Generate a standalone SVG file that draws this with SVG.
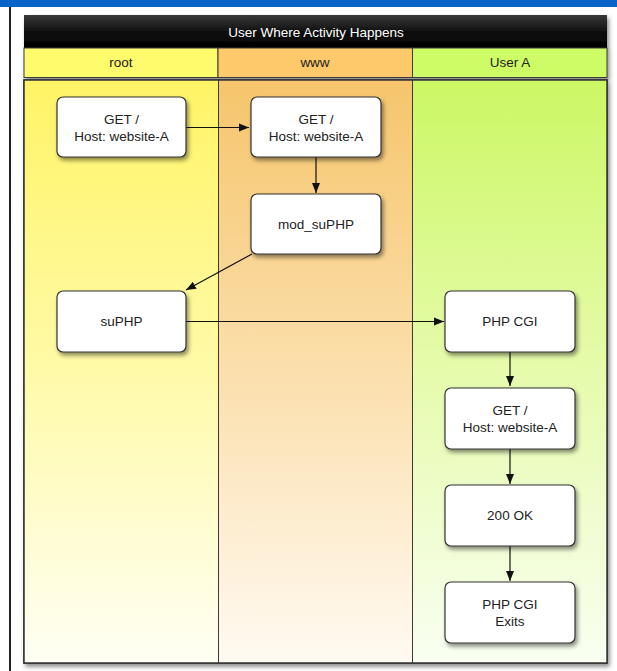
<svg xmlns="http://www.w3.org/2000/svg" width="617" height="671" viewBox="0 0 617 671">
  <style>
    text { font-family: "Liberation Sans", Arial, Helvetica, sans-serif; font-size: 13.5px; fill: #222; text-anchor: middle; }
    .title { fill: #fff; }
    .node rect { fill: #fff; stroke: #333; stroke-width: 1.2; filter: url(#shadow); }
    .lane { stroke: #3a3a3a; stroke-width: 1; }
    .edge { stroke: #111; stroke-width: 1.2; fill: none; marker-end: url(#arrow); }
  </style>
  <defs>
    <filter id="shadow" x="-20%" y="-20%" width="150%" height="160%">
      <feDropShadow dx="2" dy="3" stdDeviation="2" flood-color="#000" flood-opacity="0.45"/>
    </filter>
    <linearGradient id="titleGrad" x1="0" y1="0" x2="0" y2="1">
      <stop offset="0" stop-color="#3a3a3a"/>
      <stop offset="0.5" stop-color="#111"/>
      <stop offset="1" stop-color="#000"/>
    </linearGradient>
    <linearGradient id="rootGrad" x1="0" y1="0" x2="0" y2="1">
      <stop offset="0" stop-color="#fff466"/>
      <stop offset="0.5" stop-color="#fffaa8"/>
      <stop offset="1" stop-color="#fffff4"/>
    </linearGradient>
    <linearGradient id="wwwGrad" x1="0" y1="0" x2="0" y2="1">
      <stop offset="0" stop-color="#f6c56c"/>
      <stop offset="0.5" stop-color="#fbdfac"/>
      <stop offset="1" stop-color="#fffaf2"/>
    </linearGradient>
    <linearGradient id="userGrad" x1="0" y1="0" x2="0" y2="1">
      <stop offset="0" stop-color="#ccf764"/>
      <stop offset="0.5" stop-color="#e6fbac"/>
      <stop offset="1" stop-color="#f9fff2"/>
    </linearGradient>
    <marker id="arrow" viewBox="0 0 10 10" refX="10" refY="5" markerWidth="10" markerHeight="10" markerUnits="userSpaceOnUse" orient="auto">
      <path d="M0,1 L10,5 L0,9 z" fill="#111"/>
    </marker>
  </defs>

  <!-- window frame -->
  <rect x="0" y="0" width="617" height="671" fill="#fff"/>
  <rect x="0" y="0" width="617" height="7" fill="#0a64c8"/>
  <rect x="9" y="7" width="2" height="664" fill="#222"/>

  <!-- pool title -->
  <g id="pool-title">
    <rect x="24" y="15" width="583" height="33" fill="url(#titleGrad)" filter="url(#shadow)"/>
    <text class="title" x="316" y="37">User Where Activity Happens</text>
  </g>

  <!-- lane headers -->
  <g id="lane-headers" filter="url(#shadow)">
    <rect class="lane" x="24" y="48" width="194" height="29.5" fill="#fefc6c"/>
    <rect class="lane" x="218" y="48" width="194.5" height="29.5" fill="#fdc96a"/>
    <rect class="lane" x="412.5" y="48" width="194.5" height="29.5" fill="#cefc66"/>
  </g>
  <text x="121" y="67">root</text>
  <text x="315" y="67">www</text>
  <text x="510" y="67">User A</text>

  <!-- lane bodies -->
  <g id="lanes">
    <rect x="24" y="80" width="583" height="583" fill="#fff" stroke="#333" stroke-width="1.5" filter="url(#shadow)"/>
    <rect x="24" y="80" width="194" height="583" fill="url(#rootGrad)"/>
    <rect x="218" y="80" width="194.5" height="583" fill="url(#wwwGrad)"/>
    <rect x="412.5" y="80" width="194.5" height="583" fill="url(#userGrad)"/>
    <line class="lane" x1="218.5" y1="80" x2="218.5" y2="663"/>
    <line class="lane" x1="412.5" y1="80" x2="412.5" y2="663"/>
    <rect x="24" y="80" width="583" height="583" fill="none" stroke="#333" stroke-width="1.5"/>
  </g>

  <!-- connectors -->
  <g id="connectors">
    <line class="edge" x1="186" y1="127.5" x2="249" y2="127.5"/>
    <line class="edge" x1="316" y1="157" x2="316" y2="193"/>
    <line class="edge" x1="252" y1="254" x2="186" y2="290"/>
    <line class="edge" x1="186" y1="321.5" x2="444" y2="321.5"/>
    <line class="edge" x1="510" y1="352" x2="510" y2="386"/>
    <line class="edge" x1="510" y1="449" x2="510" y2="484"/>
    <line class="edge" x1="510" y1="546" x2="510" y2="581"/>
  </g>

  <!-- nodes -->
  <g id="node-root-get" class="node">
    <rect x="57" y="97" width="129" height="60" rx="6"/>
    <text x="121.5" y="124">GET /</text>
    <text x="121.5" y="141">Host: website-A</text>
  </g>
  <g id="node-www-get" class="node">
    <rect x="251" y="97" width="130" height="60" rx="6"/>
    <text x="316" y="124">GET /</text>
    <text x="316" y="141">Host: website-A</text>
  </g>
  <g id="node-mod-suphp" class="node">
    <rect x="251" y="194" width="130" height="60" rx="6"/>
    <text x="316" y="229">mod_suPHP</text>
  </g>
  <g id="node-suphp" class="node">
    <rect x="57" y="291" width="129" height="61" rx="6"/>
    <text x="121.5" y="326">suPHP</text>
  </g>
  <g id="node-php-cgi" class="node">
    <rect x="445" y="291" width="130" height="61" rx="6"/>
    <text x="510" y="326">PHP CGI</text>
  </g>
  <g id="node-user-get" class="node">
    <rect x="445" y="388" width="130" height="61" rx="6"/>
    <text x="510" y="415">GET /</text>
    <text x="510" y="432">Host: website-A</text>
  </g>
  <g id="node-200-ok" class="node">
    <rect x="445" y="485" width="130" height="61" rx="6"/>
    <text x="510" y="520">200 OK</text>
  </g>
  <g id="node-php-cgi-exits" class="node">
    <rect x="445" y="582" width="130" height="61" rx="6"/>
    <text x="510" y="609">PHP CGI</text>
    <text x="510" y="626">Exits</text>
  </g>
</svg>
